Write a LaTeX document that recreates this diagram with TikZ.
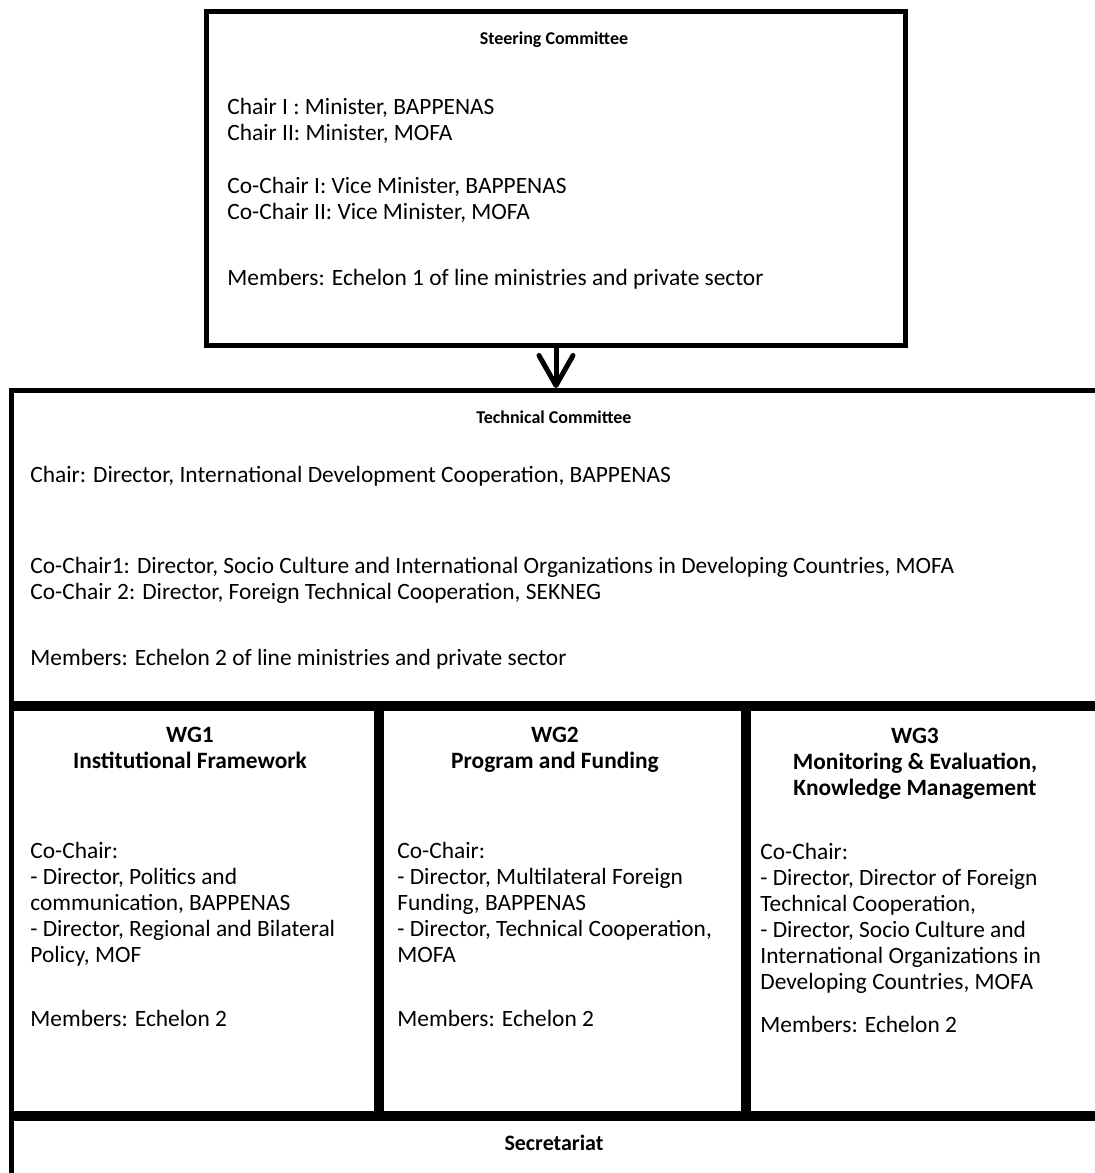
\documentclass[tikz,border=0pt]{standalone}
\usepackage{fontspec}
\setmainfont{Carlito}
\usetikzlibrary{arrows.meta,positioning}

\tikzset{
  box/.style={draw, line width=2.5pt, inner sep=0pt, anchor=north west},
  txt/.style={inner sep=0pt, anchor=base west, align=left, font=\fontsize{11.7pt}{13pt}\selectfont},
  ttl/.style={inner sep=0pt, anchor=base, align=center, font=\fontsize{11.7pt}{13pt}\selectfont\bfseries},
  head/.style={ttl, font=\fontsize{9pt}{13pt}\selectfont\bfseries},
  down/.style={line width=2.5pt, line cap=round, -{Straight Barb[length=15pt,width=17pt,line join=round,line cap=round]}}
}

\begin{document}
\begin{tikzpicture}[x=0.5pt, y=-0.5pt]
\useasboundingbox (0,0) rectangle (1095,1173);
\clip (0,0) rectangle (1095,1173);

% boxes
\node[box, minimum width=349.5pt, minimum height=167.25pt] (steer) at (204,8.5) {};
\node[box, minimum width=545.75pt, minimum height=156.5pt] (tech) at (8.5,388) {};
\node[box, minimum width=182.75pt, minimum height=202.5pt] (wg1) at (tech.south west) {};
\node[box, minimum width=181pt, minimum height=202.5pt] (wg2) at (wg1.north east) {};
\node[box, minimum width=182pt, minimum height=202.5pt] (wg3) at (wg2.north east) {};
\node[box, minimum width=545.75pt, minimum height=47pt] (sec) at (wg1.south west) {};

\draw[down] (steer.south) -- (steer.south |- tech.north);

% steering committee
\node[head] (steertitle) at (554,44) {Steering Committee};
\node[txt] (steerbody) at (227,285) {Chair I : Minister, BAPPENAS\\
  Chair II: Minister, MOFA\\[13.5pt]
  Co-Chair I: Vice Minister, BAPPENAS\\
  Co-Chair II: Vice Minister, MOFA\\[20pt]
  Members: Echelon 1 of line ministries and private sector};

% technical committee
\node[head] (techtitle) at (554,423) {Technical Committee};
\node[txt] (techbody) at (30,665) {Chair: Director, International Development Cooperation, BAPPENAS\\[32.5pt]
  Co-Chair1: Director, Socio Culture and International Organizations in Developing Countries, MOFA\\
  Co-Chair 2: Director, Foreign Technical Cooperation, SEKNEG\\[20pt]
  Members: Echelon 2 of line ministries and private sector};

% working groups
\node[ttl] (wg1title) at (190,768) {WG1\\Institutional Framework};
\node[txt] (wg1body) at (30,1026) {Co-Chair:\\
  - Director, Politics and\\
  communication, BAPPENAS\\
  - Director, Regional and Bilateral\\
  Policy, MOF\\[19pt]
  Members: Echelon 2};

\node[ttl] (wg2title) at (555,768) {WG2\\Program and Funding};
\node[txt] (wg2body) at (397,1026) {Co-Chair:\\
  - Director, Multilateral Foreign\\
  Funding, BAPPENAS\\
  - Director, Technical Cooperation,\\
  MOFA\\[19pt]
  Members: Echelon 2};

\node[ttl] (wg3title) at (915,795) {WG3\\Monitoring \& Evaluation,\\Knowledge Management};
\node[txt] (wg3body) at (760,1032) {Co-Chair:\\
  - Director, Director of Foreign\\
  Technical Cooperation,\\
  - Director, Socio Culture and\\
  International Organizations in\\
  Developing Countries, MOFA\\[8.5pt]
  Members: Echelon 2};

% secretariat
\node[ttl, font=\fontsize{11pt}{13pt}\selectfont\bfseries] (sectitle) at (554,1150) {Secretariat};
\end{tikzpicture}
\end{document}
